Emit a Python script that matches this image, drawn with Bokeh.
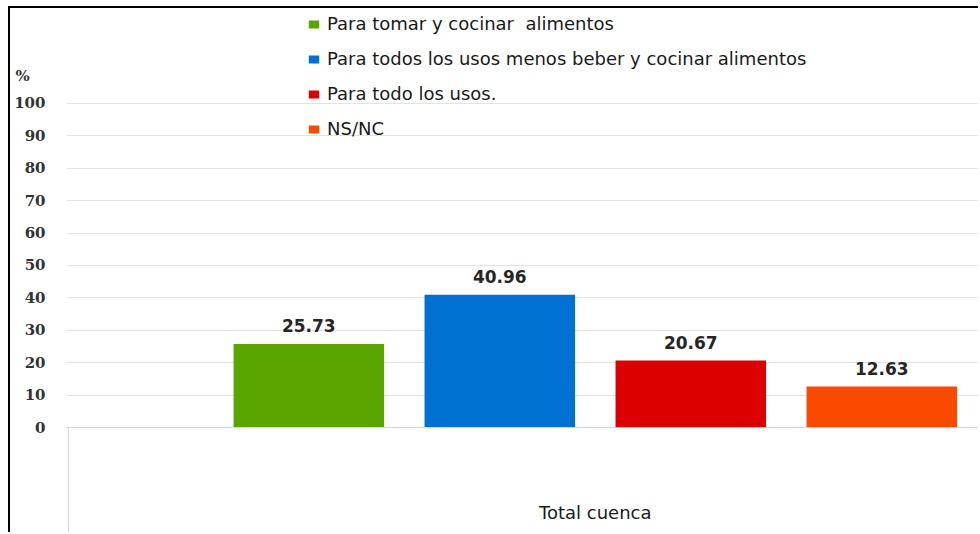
from bokeh.plotting import figure
from bokeh.models import (ColumnDataSource, Range1d, LinearAxis, FixedTicker,
                          Legend, LegendItem)
from bokeh.core.properties import value
from bokeh.embed import file_html
from bokeh.resources import INLINE

# ---- data ----
categories = ["Para tomar y cocinar  alimentos",
              "Para todos los usos menos beber y cocinar alimentos",
              "Para todo los usos.",
              "NS/NC"]
values = [25.73, 40.96, 20.67, 12.63]
colors = ["#5aa500", "#0070d2", "#dd0000", "#fa4a00"]
group_label = "Total cuenca"
y_ticks = [0, 10, 20, 30, 40, 50, 60, 70, 80, 90, 100]
y_unit = "%"

# ---- layout constants ----
W, H = 970, 526
LEFT, BOTTOM = 56, 107
BAR_W = 0.788
X0, X1 = -1.2686, 3.5168
Y1 = 129.3
UNIT_Y = 108.6

src = ColumnDataSource(dict(
    x=list(range(len(values))),
    v=values,
    c=colors,
    cat=categories,
    lbl=[f"{v:.2f}" for v in values],
))

p = figure(width=W, height=H, output_backend="svg", toolbar_location=None,
           x_range=Range1d(X0, X1), y_range=Range1d(0, Y1),
           x_axis_location=None, y_axis_location=None,
           min_border_left=LEFT, min_border_right=0, min_border_top=0,
           min_border_bottom=BOTTOM, outline_line_color=None,
           margin=(6, 0, 0, 8))
p.styles = {"border-left": "2px solid #000", "border-top": "2px solid #000"}

ytick = FixedTicker(ticks=y_ticks)
yaxis = LinearAxis(ticker=FixedTicker(ticks=y_ticks + [UNIT_Y]),
                   major_label_overrides={UNIT_Y: y_unit + "\u00a0\u00a0\u00a0"},
                   axis_line_color=None,
                   major_tick_line_color=None, minor_tick_line_color=None,
                   major_tick_out=0, major_tick_in=0,
                   minor_tick_out=0, minor_tick_in=0,
                   major_label_standoff=21,
                   major_label_text_font="DejaVu Serif",
                   major_label_text_font_style="bold",
                   major_label_text_font_size="15px",
                   major_label_text_color="#333333")
p.add_layout(yaxis, "left")

xaxis = LinearAxis(ticker=FixedTicker(ticks=[1.5], minor_ticks=[X0 + 0.012]),
                   major_label_overrides={1.5: group_label},
                   major_tick_out=0, major_tick_in=0,
                   minor_tick_out=BOTTOM, minor_tick_in=0,
                   minor_tick_line_color="#d9d9d9",
                   axis_line_color="#d9d9d9",
                   major_label_standoff=-33,
                   major_label_text_font="DejaVu Sans",
                   major_label_text_font_size="18px",
                   major_label_text_color="#1a1a1a")
p.add_layout(xaxis, "below")

p.xgrid.visible = False
p.ygrid.ticker = ytick
p.ygrid.grid_line_color = "#e3e3e3"

r = p.vbar(x="x", top="v", width=BAR_W, fill_color="c", line_color=None,
           source=src)

p.text(x="x", y="v", text="lbl", source=src, text_align="center",
       text_baseline="bottom", y_offset=-12,
       text_font=value("DejaVu Sans"), text_font_style="bold",
       text_font_size="17px", text_color="#262626")

legend = Legend(items=[LegendItem(label=c, renderers=[r], index=i)
                       for i, c in enumerate(categories)],
                location=(241, 288), padding=0, margin=0,
                background_fill_alpha=0, border_line_color=None,
                glyph_width=13, glyph_height=10, label_standoff=7,
                label_height=20, spacing=14,
                label_text_font="DejaVu Sans", label_text_font_size="18px",
                label_text_color="#1a1a1a")
p.add_layout(legend, "center")

open("out.html", "w").write(file_html(p, INLINE))
